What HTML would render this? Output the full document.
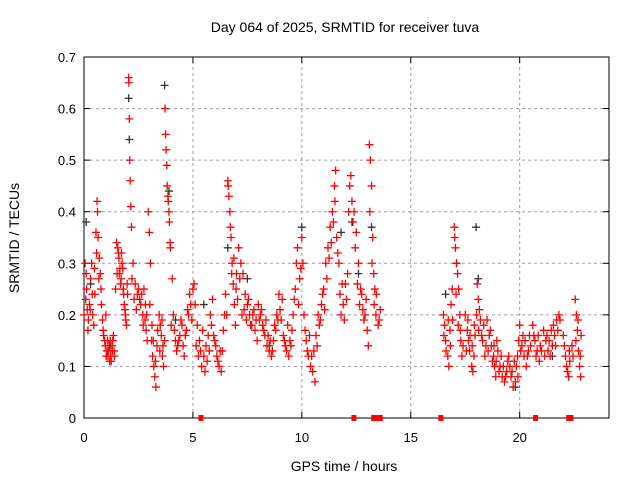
<!DOCTYPE html>
<html><head><meta charset="utf-8"><style>
html,body{margin:0;padding:0;background:#fff;}
svg{display:block;font-family:"Liberation Sans",sans-serif;}
</style></head><body>
<svg id="chart" width="640" height="480" viewBox="0 0 640 480" xmlns="http://www.w3.org/2000/svg">
<rect width="640" height="480" fill="#fff"/>
<text x="345" y="32" font-size="14" text-anchor="middle">Day 064 of 2025, SRMTID for receiver tuva</text>
<text x="344" y="471" font-size="14" text-anchor="middle">GPS time / hours</text>
<text x="0" y="0" font-size="14" text-anchor="middle" transform="translate(19,238) rotate(-90)">SRMTID / TECUs</text>
<g id="grid"></g>
<g id="axes"></g>
<g id="black-series"></g>
<g id="red-series"></g>
<g id="zero-markers"></g>
</svg>
<script>
const xTicks=[0,5,10,15,20];
const yTicks=[0,0.1,0.2,0.3,0.4,0.5,0.6,0.7];
const yTickLabels=["0","0.1","0.2","0.3","0.4","0.5","0.6","0.7"];
const redTimes=[0.05,0.1,0.12,0.15,0.2,0.25,0.3,0.35,0.4,0.45,0.5,0.55,0.6,0.62,0.65,0.7,0.75,0.8,0.85,0.9,0.95,1.0,1.05,1.1,1.15,1.2,1.25,1.3,1.35,1.4,1.5,1.55,1.6,1.65,1.7,1.75,1.8,1.85,1.9,1.95,2.0,2.05,2.06,2.08,2.1,2.12,2.15,2.18,2.25,2.35,2.45,2.55,2.6,2.7,2.75,2.8,2.85,2.9,2.95,3.0,3.05,3.1,3.15,3.2,3.25,3.3,3.35,3.45,3.5,3.55,3.6,3.65,3.7,3.72,3.75,3.77,3.8,3.82,3.85,3.87,3.9,3.92,3.95,3.97,4.05,4.1,4.2,4.3,4.4,4.5,4.6,4.7,4.8,4.9,5.0,5.05,5.1,5.2,5.3,5.4,5.5,5.6,5.7,5.8,5.9,6.0,6.1,6.2,6.3,6.35,6.4,6.45,6.5,6.6,6.62,6.65,6.7,6.72,6.75,6.8,6.85,6.9,6.95,7.0,7.1,7.2,7.3,7.4,7.5,7.6,7.7,7.8,7.9,8.0,8.1,8.2,8.3,8.4,8.5,8.6,8.7,8.8,8.9,9.0,9.1,9.2,9.3,9.4,9.5,9.6,9.65,9.7,9.75,9.8,9.9,10.0,10.05,10.1,10.2,10.3,10.4,10.5,10.6,10.7,10.8,10.9,11.0,11.1,11.2,11.3,11.4,11.5,11.55,11.6,11.7,11.8,11.9,12.0,12.1,12.2,12.25,12.3,12.4,12.5,12.6,12.7,12.8,12.9,13.0,13.05,13.1,13.15,13.2,13.25,13.3,13.35,13.4,13.5,13.6,16.5,16.55,16.6,16.7,16.75,16.8,16.85,16.9,17.0,17.02,17.05,17.1,17.15,17.2,17.25,17.3,17.35,17.5,17.6,17.65,17.7,17.8,17.85,17.9,17.95,18.05,18.1,18.15,18.2,18.3,18.4,18.5,18.6,18.7,18.8,18.85,18.9,18.95,19.0,19.1,19.2,19.3,19.4,19.5,19.6,19.7,19.8,19.85,19.9,19.95,20.0,20.1,20.2,20.3,20.4,20.45,20.6,20.7,20.8,20.9,20.95,21.1,21.2,21.3,21.4,21.5,21.6,21.7,21.8,22.0,22.1,22.2,22.25,22.3,22.4,22.55,22.6,22.65,22.7,22.75,22.8];
const redValues=[.30,.28,.25,.21,.19,.22,.27,.30,.20,.18,.24,.36,.42,.40,.35,.31,.28,.22,.19,.16,.15,.20,.13,.12,.14,.15,.11,.13,.16,.12,.34,.33,.31,.29,.27,.30,.25,.22,.20,.18,.24,.66,.65,.58,.50,.46,.41,.37,.30,.26,.24,.23,.22,.20,.25,.19,.17,.15,.40,.36,.30,.15,.12,.10,.08,.06,.14,.20,.18,.16,.12,.10,.15,.60,.55,.52,.49,.45,.43,.42,.40,.38,.34,.33,.27,.20,.15,.14,.16,.18,.12,.17,.20,.22,.25,.26,.22,.18,.15,.10,.12,.14,.16,.20,.23,.15,.12,.10,.09,.13,.17,.20,.24,.46,.45,.43,.40,.37,.35,.30,.26,.22,.18,.28,.33,.30,.28,.24,.22,.20,.18,.21,.19,.22,.20,.18,.16,.14,.13,.12,.15,.17,.19,.21,.23,.15,.13,.12,.14,.20,.23,.25,.30,.33,.27,.35,.30,.20,.15,.12,.10,.09,.07,.14,.18,.22,.25,.30,.33,.37,.40,.45,.48,.35,.30,.20,.22,.26,.28,.45,.47,.42,.40,.36,.30,.25,.21,.20,.17,.14,.53,.50,.45,.35,.28,.25,.20,.18,.21,.20,.18,.15,.12,.10,.17,.22,.25,.37,.35,.33,.30,.28,.25,.20,.15,.12,.20,.17,.15,.13,.10,.09,.12,.16,.26,.23,.21,.19,.15,.12,.19,.16,.14,.12,.10,.08,.15,.13,.10,.08,.07,.09,.12,.08,.06,.07,.10,.12,.15,.18,.14,.12,.10,.13,.16,.18,.15,.13,.11,.14,.17,.15,.13,.12,.14,.16,.19,.20,.16,.12,.09,.08,.11,.14,.23,.20,.17,.13,.10,.08];
const redTimes2=[0.0,0.08,0.18,0.28,0.38,0.48,0.58,0.68,0.78,0.88,0.98,1.02,1.08,1.12,1.18,1.22,1.28,1.32,1.38,1.45,1.52,1.58,1.62,1.68,1.72,1.78,1.82,1.88,1.92,1.98,2.2,2.3,2.4,2.5,2.65,2.72,2.82,2.88,3.02,3.12,3.18,3.28,3.38,3.48,3.58,3.62,4.0,4.15,4.25,4.35,4.45,4.55,4.65,4.75,4.85,4.95,5.15,5.25,5.35,5.45,5.55,5.65,5.75,5.85,5.95,6.05,6.15,6.25,6.55,6.78,6.88,6.98,7.05,7.15,7.25,7.35,7.45,7.55,7.65,7.75,7.85,7.95,8.05,8.15,8.25,8.35,8.45,8.55,8.65,8.75,8.85,8.95,9.05,9.15,9.25,9.35,9.45,9.55,9.85,9.95,10.15,10.25,10.35,10.45,10.55,10.65,10.75,10.85,10.95,11.05,11.15,11.25,11.35,11.45,11.52,11.65,11.75,11.85,11.95,12.05,12.15,12.35,12.45,12.55,12.65,12.75,12.85,12.95,13.12,13.22,13.32,13.42,13.55,16.52,16.62,16.72,16.82,16.92,17.08,17.18,17.28,17.4,17.55,17.62,17.72,17.82,17.92,18.02,18.12,18.25,18.35,18.45,18.55,18.65,18.75,18.82,18.92,19.05,19.15,19.25,19.35,19.45,19.55,19.65,19.75,19.92,20.05,20.15,20.25,20.35,20.5,20.65,20.75,20.85,21.0,21.15,21.25,21.35,21.45,21.55,21.65,21.75,21.85,22.05,22.15,22.28,22.45,22.58,22.68,22.78,22.82];
const redValues2=[.20,.23,.17,.21,.24,.29,.32,.27,.25,.17,.14,.12,.15,.13,.11,.12,.14,.15,.13,.25,.28,.32,.28,.26,.32,.29,.24,.21,.19,.26,.27,.23,.21,.25,.24,.18,.22,.20,.22,.18,.15,.11,.17,.13,.19,.14,.18,.17,.13,.15,.19,.14,.16,.21,.24,.19,.14,.12,.13,.17,.09,.11,.13,.18,.16,.14,.11,.13,.20,.28,.31,.25,.23,.27,.20,.21,.19,.23,.18,.20,.17,.15,.19,.21,.17,.19,.16,.15,.13,.18,.20,.24,.19,.16,.14,.18,.15,.17,.22,.29,.17,.13,.16,.12,.13,.16,.20,.19,.24,.21,.27,.31,.34,.38,.42,.32,.24,.26,.19,.23,.40,.38,.33,.26,.22,.24,.19,.23,.40,.30,.22,.24,.19,.16,.13,.19,.14,.19,.24,.18,.17,.14,.13,.19,.16,.14,.18,.20,.17,.16,.18,.14,.13,.17,.11,.14,.11,.09,.12,.10,.08,.11,.10,.09,.11,.08,.13,.16,.15,.12,.14,.16,.12,.16,.13,.12,.16,.15,.17,.18,.14,.17,.19,.14,.10,.13,.12,.15,.19,.12,.16];
const blackTimes=[0.1,0.3,1.2,2.05,2.08,3.7,3.9,4.2,5.5,6.6,7.5,8.5,10.0,11.8,12.3,12.6,13.2,16.6,17.1,18.0,18.1,19.8,21.5];
const blackValues=[.38,.26,.14,.62,.54,.645,.44,.19,.22,.33,.27,.14,.37,.36,.38,.28,.37,.24,.30,.37,.27,.06,.12];
const zeroTimes=[5.37,12.39,13.3,13.45,13.6,16.38,20.73,22.25,22.35];

const X0=84,X1=609,Y0=418,Y1=57,XMAX=24.1,YMAX=0.7;
function xs(t){return X0+(t/XMAX)*(X1-X0);}
function ys(v){return Y0-(v/YMAX)*(Y0-Y1);}
const NS="http://www.w3.org/2000/svg";
function mk(tag,attrs,parent){const e=document.createElementNS(NS,tag);for(const k in attrs)e.setAttribute(k,attrs[k]);parent.appendChild(e);return e;}
const grid=document.getElementById('grid'),axes=document.getElementById('axes');
yTicks.forEach((v,i)=>{
  const y=ys(v);
  if(i>0&&i<yTicks.length-1){const g=mk('line',{x1:X0,x2:X1,y1:y,y2:y,stroke:'#a0a0a0','stroke-dasharray':'3,3'},grid);
  
  }
  mk('line',{x1:X0,x2:X0+6,y1:y,y2:y,stroke:'#000'},axes);
  mk('line',{x1:X1,x2:X1-6,y1:y,y2:y,stroke:'#000'},axes);
  const t=mk('text',{x:X0-8,y:y+5,'font-size':13,'text-anchor':'end'},axes);
  t.textContent=yTickLabels[i];
  
  
});
xTicks.forEach(v=>{
  const x=xs(v);
  if(v>0){const g=mk('line',{x1:x,x2:x,y1:Y0,y2:Y1,stroke:'#a0a0a0','stroke-dasharray':'3,3'},grid);
  
  }
  mk('line',{x1:x,x2:x,y1:Y0,y2:Y0-6,stroke:'#000'},axes);
  mk('line',{x1:x,x2:x,y1:Y1,y2:Y1+6,stroke:'#000'},axes);
  const t=mk('text',{x:x,y:Y0+24,'font-size':13,'text-anchor':'middle'},axes);
  t.textContent=String(v);
  
  
});
mk('rect',{x:X0,y:Y1,width:X1-X0,height:Y0-Y1,fill:'none',stroke:'#000'},axes);
function plus(g,t,v,col,name){
  const x=xs(t),y=ys(v);
  const p=mk('path',{d:`M${x-4} ${y}H${x+4}M${x} ${y-4}V${y+4}`,stroke:col,'stroke-width':1.3,fill:'none'},g);
  
  
}
const bg=document.getElementById('black-series');
blackTimes.forEach((t,i)=>plus(bg,t,blackValues[i],'#333','black-point'));
const rg=document.getElementById('red-series');
redTimes.forEach((t,i)=>plus(rg,t,redValues[i],'#ff0000','red-point'));
redTimes2.forEach((t,i)=>plus(rg,t,redValues2[i],'#ff0000','red-point'));
const zg=document.getElementById('zero-markers');
zeroTimes.forEach(t=>{
  const r=mk('rect',{x:xs(t)-2.5,y:Y0-3,width:5,height:6,fill:'#ff0000'},zg);
  
  
});
</script>
</body></html>
